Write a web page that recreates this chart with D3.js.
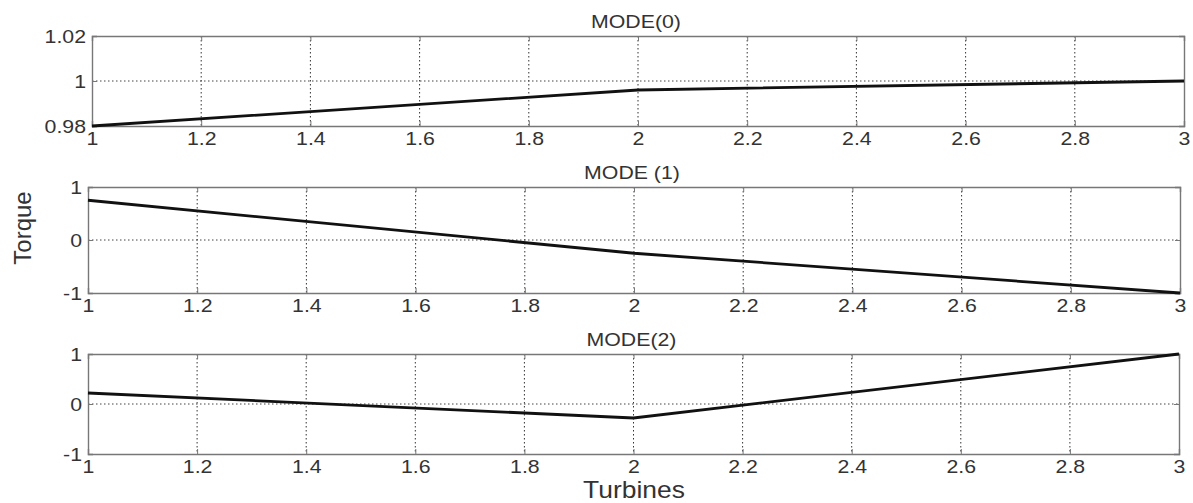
<!DOCTYPE html>
<html><head><meta charset="utf-8">
<script src="https://cdn.jsdelivr.net/npm/d3@7"></script>
<style>
body{margin:0;background:#fff;}
text{font-family:"Liberation Sans",Arial,sans-serif;}
</style></head>
<body><svg id="c" width="1193" height="503"></svg>
<script>
const turbines = [1, 2, 3];
const mode0 = [0.98, 0.996, 1.0];
const mode1 = [0.75, -0.25, -1.0];
const mode2 = [0.22, -0.28, 1.0];
const xTicks = [1, 1.2, 1.4, 1.6, 1.8, 2, 2.2, 2.4, 2.6, 2.8, 3];
const yTicks0 = [0.98, 1, 1.02];
const yTicks12 = [-1, 0, 1];
const titles = ["MODE(0)", "MODE (1)", "MODE(2)"];

const panels = [
  {title: titles[0], data: mode0, dom: [0.98, 1.02], ticks: yTicks0, l: 92, r: 1184, t: 36, b: 126},
  {title: titles[1], data: mode1, dom: [-1, 1], ticks: yTicks12, l: 88, r: 1180, t: 187, b: 293},
  {title: titles[2], data: mode2, dom: [-1, 1], ticks: yTicks12, l: 88, r: 1179, t: 354, b: 454}
];

const svg = d3.select("#c");
const fmt = d => String(d);
function stretch(sel, k) {
  sel.each(function() {
    const w = this.getComputedTextLength();
    if (w > 0) d3.select(this).attr("textLength", w * k).attr("lengthAdjust", "spacingAndGlyphs");
  });
}

panels.forEach(p => {
  const x = d3.scaleLinear().domain([1, 3]).range([p.l, p.r]);
  const y = d3.scaleLinear().domain(p.dom).range([p.b, p.t]);
  const g = svg.append("g");
  g.selectAll(".gx").data(xTicks.slice(1, -1)).join("line")
    .attr("x1", d => x(d)).attr("x2", d => x(d)).attr("y1", p.t).attr("y2", p.b)
    .attr("stroke", "#333").attr("stroke-width", 1).attr("stroke-dasharray", "1.5,2.5");
  g.selectAll(".gy").data(p.ticks.slice(1, -1)).join("line")
    .attr("x1", p.l).attr("x2", p.r).attr("y1", d => y(d)).attr("y2", d => y(d))
    .attr("stroke", "#444").attr("stroke-width", 1).attr("stroke-dasharray", "1.5,2.5");
  const xb = d3.axisBottom(x).tickValues(xTicks).tickFormat(fmt).tickSize(-5).tickPadding(6);
  const xt = d3.axisTop(x).tickValues(xTicks).tickFormat("").tickSize(-5);
  const yl = d3.axisLeft(y).tickValues(p.ticks).tickFormat(fmt).tickSize(-5).tickPadding(6);
  const yr = d3.axisRight(y).tickValues(p.ticks).tickFormat("").tickSize(-5);
  [[xb, `translate(0,${p.b})`], [xt, `translate(0,${p.t})`], [yl, `translate(${p.l},0)`], [yr, `translate(${p.r},0)`]]
    .forEach(([ax, tr]) => {
      const a = g.append("g").attr("transform", tr).call(ax);
      a.select(".domain").attr("stroke", "#777").attr("stroke-width", 1.4);
      a.selectAll(".tick line").attr("stroke", "#777");
      a.selectAll("text").attr("fill", "#333").attr("font-size", 19).call(stretch, 1.12);
    });
  const line = d3.line().x((d, i) => x(turbines[i])).y(d => y(d));
  g.append("path").datum(p.data).attr("d", line)
    .attr("fill", "none").attr("stroke", "#111").attr("stroke-width", 2.8);
  g.append("text").attr("x", (p.l + p.r) / 2 - 2).attr("y", p.t - 8)
    .attr("text-anchor", "middle").attr("font-size", 19).attr("fill", "#333")
    .text(p.title).call(stretch, 1.12);
});

svg.append("text").attr("x", 634).attr("y", 498).attr("text-anchor", "middle")
  .attr("font-size", 24).attr("fill", "#333").text("Turbines").call(stretch, 1.1);
svg.append("text").attr("transform", "translate(31,228) rotate(-90)").attr("text-anchor", "middle")
  .attr("font-size", 24).attr("fill", "#333").text("Torque");
</script></body></html>
